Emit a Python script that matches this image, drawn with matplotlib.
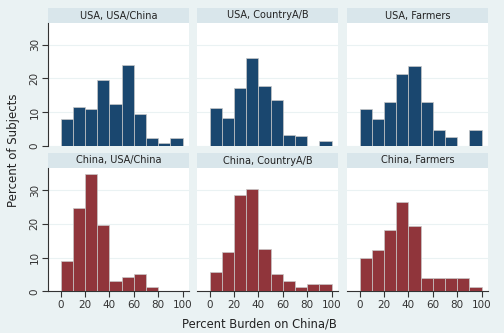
import numpy as np
import matplotlib
matplotlib.use("Agg")
import matplotlib.pyplot as plt

# histogram bins: 0-10, 10-20, ..., 90-100 (percent burden)
bin_edges = [0, 10, 20, 30, 40, 50, 60, 70, 80, 90]
row_labels = ["USA", "China"]
col_labels = ["USA/China", "CountryA/B", "Farmers"]

usa_usachina = [8.0, 11.6, 10.9, 19.6, 12.4, 23.9, 9.5, 2.2, 0.7, 2.2]
usa_countryab = [11.1, 8.3, 17.2, 26.2, 17.9, 13.6, 3.3, 2.8, 0.0, 1.3]
usa_farmers = [10.9, 7.8, 13.0, 21.4, 23.6, 13.0, 4.7, 2.5, 0.0, 4.7]
china_usachina = [9.0, 24.7, 34.6, 19.7, 3.1, 4.1, 5.0, 1.2, 0.0, 0.0]
china_countryab = [5.8, 11.6, 28.6, 30.4, 12.6, 5.0, 3.0, 1.2, 2.1, 2.1]
china_farmers = [9.8, 12.2, 18.0, 26.4, 19.3, 3.8, 3.8, 3.8, 3.8, 1.4]

values = [[usa_usachina, usa_countryab, usa_farmers],
          [china_usachina, china_countryab, china_farmers]]
bar_colors = ["#1a476f", "#90353b"]

bg = "#eaf2f3"
strip_bg = "#d9e6eb"
W, H = 504, 333

fig = plt.figure(figsize=(W / 100, H / 100), dpi=100, facecolor=bg)
plt.rcParams["font.family"] = "DejaVu Sans"

col_x = [(48, 189), (197, 338), (347, 488)]
row_y = [(8, 23, 145.7), (153, 168, 291.3)]  # strip top, plot top, plot bottom


def box(x0, x1, y0, y1):
    return [x0 / W, 1 - y1 / H, (x1 - x0) / W, (y1 - y0) / H]


for r in range(2):
    st, pt, pb = row_y[r]
    for c in range(3):
        x0, x1 = col_x[c]
        # strip header
        sax = fig.add_axes(box(x0, x1, st, pt))
        sax.set_facecolor(strip_bg)
        sax.set_xticks([])
        sax.set_yticks([])
        for s in sax.spines.values():
            s.set_visible(False)
        sax.text(0.5, 0.5, f"{row_labels[r]}, {col_labels[c]}", ha="center",
                 va="center", fontsize=7, color="#222222", transform=sax.transAxes)

        ax = fig.add_axes(box(x0, x1, pt, pb))
        ax.set_facecolor("white")
        ax.bar(bin_edges, values[r][c], width=10, align="edge",
               color=bar_colors[r], edgecolor="#c8c8c8", linewidth=0.5, zorder=3)
        ax.set_xlim(-10.4, 105.2)
        ax.set_ylim(0, 36.5)
        ax.set_yticks([0, 10, 20, 30])
        ax.grid(axis="y", color=bg, linewidth=0.8, zorder=0)
        for s in ax.spines.values():
            s.set_visible(False)
        ax.tick_params(axis="both", labelsize=7.5, colors="#333333", length=0)
        if c == 0:
            ax.spines["left"].set_visible(True)
            ax.spines["left"].set_color("#333333")
            ax.spines["left"].set_linewidth(0.8)
            ax.tick_params(axis="y", length=4, width=0.8, pad=2)
            for lab in ax.get_yticklabels():
                lab.set_rotation(90)
                lab.set_va("center")
        else:
            ax.set_yticklabels([])
        if r == 1:
            ax.spines["bottom"].set_visible(True)
            ax.spines["bottom"].set_color("#333333")
            ax.spines["bottom"].set_linewidth(0.8)
            ax.set_xticks([0, 20, 40, 60, 80, 100])
            ax.tick_params(axis="x", length=4, width=0.8, pad=2)
        else:
            ax.set_xticks([])

fig.text(14 / W, 1 - 150 / H, "Percent of Subjects", rotation=90, ha="center",
         va="center", fontsize=8.5, color="#222222")
fig.text(259 / W, 1 - 324 / H, "Percent Burden on China/B", ha="center",
         va="center", fontsize=8.3, color="#222222")

fig.savefig("out.png", dpi=100, facecolor=bg)
